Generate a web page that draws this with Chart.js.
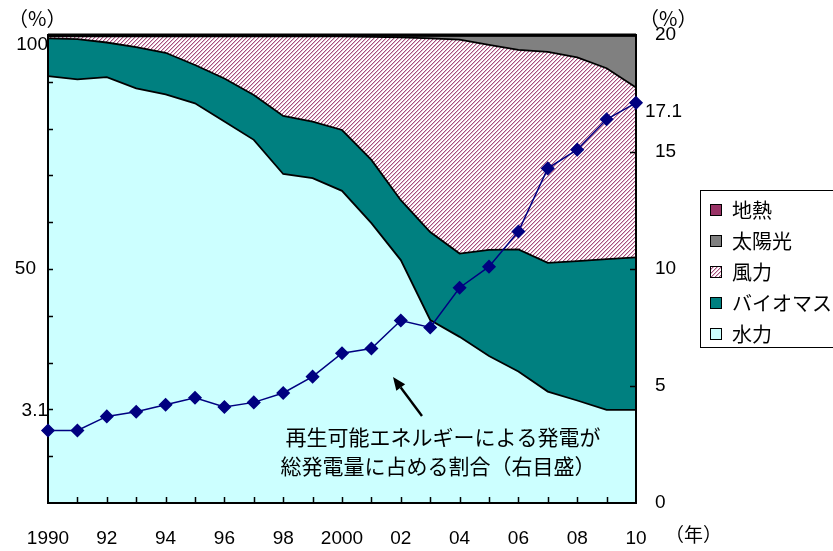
<!DOCTYPE html>
<html>
<head>
<meta charset="utf-8">
<script src="https://cdn.jsdelivr.net/npm/chart.js@4"></script>
<style>
  body { margin: 0; background: #fff; }
</style>
</head>
<body>
<canvas id="mix" width="833" height="551"></canvas>
<script>
// ── Data ──────────────────────────────────────────────────────────────────────
const years = ["1990","1991","1992","1993","1994","1995","1996","1997","1998","1999","2000",
               "2001","2002","2003","2004","2005","2006","2007","2008","2009","2010"];
const yearTickLabels = ["1990","","92","","94","","96","","98","","2000",
                        "","02","","04","","06","","08","","10"];

// share of each source in renewable generation (%), stacked bottom to top
const hydro   = [91.2, 90.5, 91.0, 88.6, 87.3, 85.4, 81.5, 77.6, 70.3, 69.4, 66.7,
                 59.8, 51.9, 39.1, 35.5, 31.4, 28.1, 23.8, 21.9, 19.9, 19.9];
const biomass = [8.1, 8.6, 7.4, 8.8, 8.9, 8.2, 9.2, 9.6, 12.4, 12.1, 13.0,
                 13.5, 12.8, 18.8, 17.8, 22.7, 26.1, 27.5, 29.8, 32.2, 32.6];
const wind    = [0.4, 0.6, 1.3, 2.3, 3.5, 6.1, 9.0, 12.5, 17.0, 18.2, 20.0,
                 26.3, 34.8, 41.4, 45.7, 43.8, 42.6, 45.1, 43.5, 40.8, 36.3];
const solar   = [0.1, 0.1, 0.1, 0.1, 0.1, 0.1, 0.1, 0.1, 0.1, 0.1, 0.1,
                 0.2, 0.3, 0.5, 0.8, 1.9, 3.0, 3.4, 4.6, 6.9, 11.0];
const geo     = [0.2, 0.2, 0.2, 0.2, 0.2, 0.2, 0.2, 0.2, 0.2, 0.2, 0.2,
                 0.2, 0.2, 0.2, 0.2, 0.2, 0.2, 0.2, 0.2, 0.2, 0.2];

// renewables' share of total generation (%, right scale)
const renewShare = [3.1, 3.1, 3.7, 3.9, 4.2, 4.5, 4.1, 4.3, 4.7, 5.4, 6.4,
                    6.6, 7.8, 7.5, 9.2, 10.1, 11.6, 14.3, 15.1, 16.4, 17.1];

const legendItems = ["地熱", "太陽光", "風力", "バイオマス", "水力"];
const noteLines = ["再生可能エネルギーによる発電が", "総発電量に占める割合（右目盛）"];

// ── Styles ────────────────────────────────────────────────────────────────────
const JP = '"Noto Sans CJK JP", sans-serif';
const NUM = '"Liberation Sans", Arial, sans-serif';
const COL_HYDRO = "#ccffff", COL_BIO = "#008080", COL_SOLAR = "#808080", COL_GEO = "#993366";

function hatch() {
    const c = document.createElement("canvas");
    c.width = 4; c.height = 4;
    const g = c.getContext("2d");
    g.fillStyle = "#fff";
    g.fillRect(0, 0, 4, 4);
    for (let y = 0; y < 4; y++) {
        g.fillStyle = "#a4507e";
        g.fillRect((3 - y + 4) % 4, y, 1, 1);
        g.fillStyle = "#e2b8cc";
        g.fillRect((4 - y + 4) % 4, y, 1, 1);
    }
    return g.createPattern(c, "repeat");
}
const ctx = document.getElementById("mix").getContext("2d");
const windFill = hatch();

function area(label, data, bg, fill) {
    return {
        label, data, backgroundColor: bg, fill,
        borderColor: "#000", borderWidth: 1.8, pointRadius: 0,
        yAxisID: "y", order: 1, tension: 0
    };
}

function arrow(ctx, x0, y0, x1, y1) {
    const len = Math.hypot(x1 - x0, y1 - y0);
    const ux = (x1 - x0) / len, uy = (y1 - y0) / len;
    const bx = x1 - ux * 13, by = y1 - uy * 13;
    ctx.beginPath();
    ctx.moveTo(x0, y0); ctx.lineTo(bx, by);
    ctx.stroke();
    ctx.beginPath();
    ctx.moveTo(x1, y1);
    ctx.lineTo(bx - uy * 5.5, by + ux * 5.5);
    ctx.lineTo(bx + uy * 5.5, by - ux * 5.5);
    ctx.closePath();
    ctx.fill();
}

// ── Frame, inner ticks, labels, note and legend ───────────────────────────────
const decor = {
    id: "decor",
    afterDatasetDraw(chart, args) {
        if (args.index !== 0) return;   // hydro is the last area drawn
        const { ctx, chartArea: a, scales } = chart;
        ctx.save();
        ctx.strokeStyle = "#000";
        ctx.lineWidth = 1.5;
        ctx.beginPath();
        for (let v = 10; v < 100; v += 10) {
            const y = Math.round(scales.y.getPixelForValue(v)) + 0.5;
            ctx.moveTo(a.left, y); ctx.lineTo(a.left + 5, y);
        }
        for (let v = 5; v < 20; v += 5) {
            const y = Math.round(scales.y2.getPixelForValue(v)) + 0.5;
            ctx.moveTo(a.right, y); ctx.lineTo(a.right - 6, y);
        }
        for (let i = 1; i < years.length - 1; i++) {
            const x = Math.round(scales.x.getPixelForValue(i)) + 0.5;
            ctx.moveTo(x, a.bottom); ctx.lineTo(x, a.bottom - 6);
        }
        ctx.stroke();
        ctx.lineWidth = 2;
        ctx.strokeRect(a.left, a.top, a.right - a.left, a.bottom - a.top);
        ctx.lineWidth = 3;
        ctx.beginPath();
        ctx.moveTo(a.left, a.top); ctx.lineTo(a.right, a.top);
        ctx.stroke();
        ctx.restore();
    },
    afterDraw(chart) {
        const { ctx, chartArea: a, scales } = chart;
        ctx.save();
        ctx.fillStyle = "#000";
        ctx.textBaseline = "middle";

        // axis captions and extra value labels
        ctx.textAlign = "left";
        ctx.font = "20px " + JP;
        ctx.fillText("（%）", 8, 18);
        ctx.fillText("（%）", 639, 18);
        ctx.font = "19px " + JP;
        ctx.fillText("（年）", 665, 535);
        ctx.font = "19px " + NUM;
        ctx.fillText(String(renewShare[renewShare.length - 1]), 645, scales.y2.getPixelForValue(17.1) + 9);
        ctx.textAlign = "right";
        ctx.fillText("100", a.left, scales.y.getPixelForValue(100) + 10);
        ctx.fillText("50", 36, scales.y.getPixelForValue(50));
        ctx.fillText(String(renewShare[0]), a.left, scales.y2.getPixelForValue(3.1) - 20);

        // note with arrow
        ctx.textAlign = "center";
        ctx.font = "21px " + JP;
        ctx.fillText(noteLines[0], 443, 437);
        ctx.fillText(noteLines[1], 438, 466);
        ctx.strokeStyle = "#000";
        ctx.lineWidth = 2.4;
        arrow(ctx, 422, 416, 393, 377);

        // legend box
        ctx.lineWidth = 1;
        ctx.strokeRect(700.5, 190.5, 140, 157);
        const fills = [COL_GEO, COL_SOLAR, windFill, COL_BIO, COL_HYDRO];
        ctx.font = "20px " + JP;
        ctx.textAlign = "left";
        legendItems.forEach((txt, i) => {
            const y = 210 + i * 31;
            ctx.fillStyle = fills[i];
            ctx.fillRect(710, y - 6, 12, 12);
            ctx.strokeRect(710.5, y - 5.5, 11, 11);
            ctx.fillStyle = "#000";
            ctx.fillText(txt, 732, y);
        });
        ctx.restore();
    }
};

// ── Chart setup ───────────────────────────────────────────────────────────────
new Chart(ctx, {
    type: "line",
    data: {
        labels: years,
        datasets: [
            area("水力", hydro, COL_HYDRO, "origin"),
            area("バイオマス", biomass, COL_BIO, "-1"),
            area("風力", wind, windFill, "-1"),
            area("太陽光", solar, COL_SOLAR, "-1"),
            area("地熱", geo, COL_GEO, "-1"),
            {
                label: "再生可能エネルギー比率",
                data: renewShare,
                yAxisID: "y2",
                order: 0,
                fill: false,
                clip: false,
                borderColor: "#000080",
                borderWidth: 1.5,
                pointStyle: "rectRot",
                pointRadius: 6,
                pointBackgroundColor: "#000080",
                pointBorderColor: "#000080",
                tension: 0
            }
        ]
    },
    options: {
        responsive: false,
        animation: false,
        devicePixelRatio: 1,
        layout: { padding: { top: 35, left: 0, right: 0, bottom: 0 } },
        plugins: { legend: { display: false }, tooltip: { enabled: false } },
        scales: {
            x: {
                type: "category",
                offset: false,
                grid: { display: false, drawTicks: false },
                border: { display: false },
                ticks: {
                    autoSkip: false, maxRotation: 0, padding: 24,
                    color: "#000", font: { size: 19, family: NUM },
                    callback: (v, i) => yearTickLabels[i]
                },
                afterFit: s => { s.height = 48; }
            },
            y: {
                position: "left",
                stacked: true,
                min: 0, max: 100,
                grid: { display: false, drawTicks: false },
                border: { display: false },
                ticks: { display: false, stepSize: 10 },
                afterFit: s => { s.width = 48; }
            },
            y2: {
                position: "right",
                min: 0, max: 20,
                grid: { display: false, drawTicks: false },
                border: { display: false },
                ticks: {
                    stepSize: 5, padding: 19,
                    color: "#000", font: { size: 19, family: NUM }
                },
                afterFit: s => { s.width = 197; }
            }
        }
    },
    plugins: [decor]
});
</script>
</body>
</html>
